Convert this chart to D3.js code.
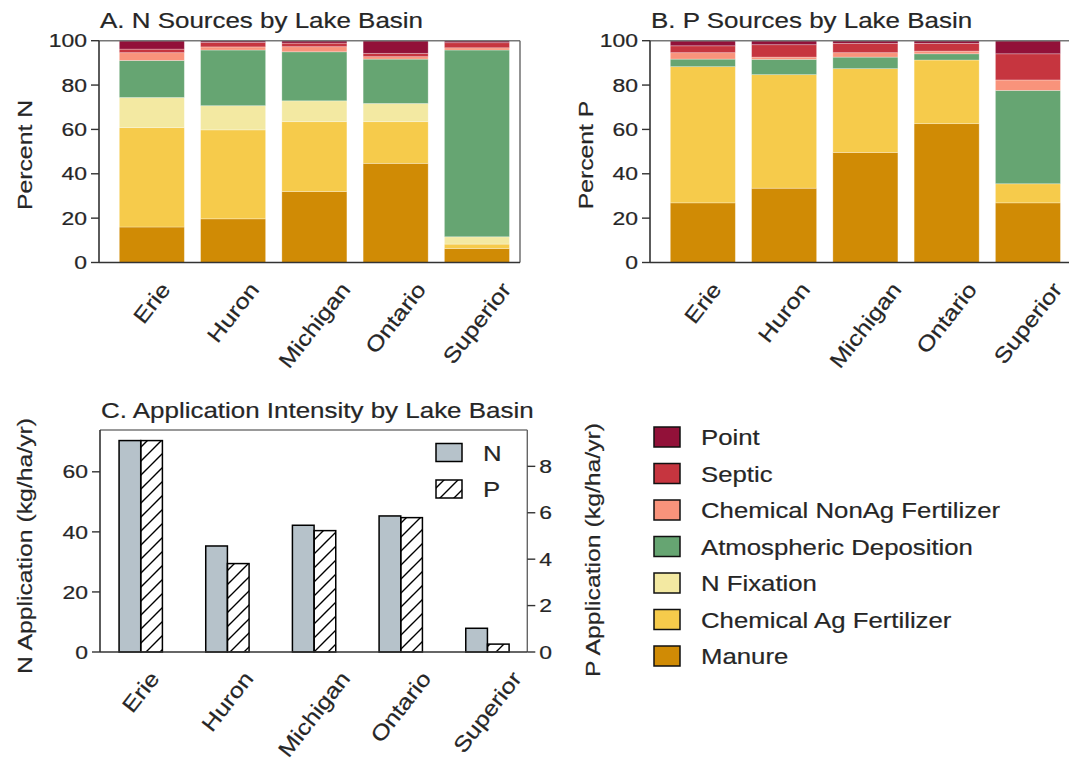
<!DOCTYPE html>
<html>
<head>
<meta charset="utf-8">
<script src="https://cdn.jsdelivr.net/npm/d3@7"></script>
<style>
  html, body { margin: 0; padding: 0; background: #fff; }
  svg { display: block; }
  text { font-family: "Liberation Sans", Arial, sans-serif; fill: #262626; stroke: #262626; stroke-width: 0.2px; }
</style>
</head>
<body>
<svg id="chart" width="1069" height="761"></svg>
<script>
// Lake basins
const basins = ["Erie", "Huron", "Michigan", "Ontario", "Superior"];

// Source categories, stacked bottom to top
const sources = ["Manure", "Chemical Ag Fertilizer", "N Fixation", "Atmospheric Deposition",
                 "Chemical NonAg Fertilizer", "Septic", "Point"];
const sourceColors = ["#d08b05", "#f6cb4b", "#f3e9a2", "#66a572", "#f9937b", "#c6353f", "#921139"];

// Percent of N by source (per basin)
const nManure  = [16.0, 19.7, 32.0, 44.7, 6.3];
const nChemAg  = [44.8, 40.1, 31.5, 18.8, 2.0];
const nFix     = [13.6, 10.9, 9.4, 8.2, 3.3];
const nAtmos   = [16.7, 25.1, 22.1, 20.0, 84.2];
const nNonAg   = [3.5, 1.4, 2.3, 1.1, 1.0];
const nSeptic  = [1.6, 2.0, 1.6, 1.5, 2.3];
const nPoint   = [3.8, 0.8, 1.1, 5.7, 0.9];

// Percent of P by source (per basin)
const pManure  = [26.9, 33.5, 49.6, 62.6, 26.9];
const pChemAg  = [61.4, 51.2, 37.8, 28.7, 8.6];
const pFix     = [0, 0, 0, 0, 0];
const pAtmos   = [3.4, 6.9, 5.2, 2.8, 42.1];
const pNonAg   = [2.9, 1.0, 2.0, 1.2, 4.7];
const pSeptic  = [3.1, 5.6, 4.2, 3.5, 11.8];
const pPoint   = [2.3, 1.8, 1.2, 1.2, 5.9];

// Application intensity (kg/ha/yr)
const nApplication = [70.4, 35.3, 42.2, 45.3, 7.9];
const pApplication = [9.11, 3.81, 5.23, 5.79, 0.34];

// Tick values
const pctTicks = [0, 20, 40, 60, 80, 100];
const nAppTicks = [0, 20, 40, 60];
const pAppTicks = [0, 2, 4, 6, 8];

const svg = d3.select("#chart");
const INK = "#333";
const SX = 1.18; // horizontal glyph stretch

const defs = svg.append("defs");
const hatch = defs.append("pattern")
  .attr("id", "hatch").attr("patternUnits", "userSpaceOnUse")
  .attr("width", 14).attr("height", 14);
hatch.append("path").attr("d", "M-2,2 L2,-2 M0,14 L14,0 M12,16 L16,12")
  .attr("stroke", "#000").attr("stroke-width", 1.4).attr("fill", "none");

function label(parent, str, x, y, o = {}) {
  const t = parent.append("text")
    .text(str)
    .attr("font-size", o.size || 18)
    .attr("text-anchor", o.anchor || "start")
    .attr("dominant-baseline", o.baseline || "auto")
    .attr("transform", `translate(${x},${y}) rotate(${o.rotate || 0}) scale(${o.sx || SX},1)`);
  return t;
}

// Rotated category label whose bounding box is centred on x with its top at yTop
function catLabel(parent, str, x, yTop, size) {
  const t = parent.append("text").text(str)
    .attr("font-size", size)
    .attr("text-anchor", "middle")
    .attr("dominant-baseline", "central")
    .attr("transform", `translate(${x},${yTop}) rotate(-52) scale(${SX},1)`);
  const r = t.node().getBoundingClientRect();
  const dx = x - (r.left + r.right) / 2;
  const dy = yTop - r.top;
  t.attr("transform", `translate(${x + dx},${yTop + dy}) rotate(-52) scale(${SX},1)`);
}

function frame(g, x0, x1, y0, y1) {
  g.append("line").attr("x1", x0).attr("x2", x1).attr("y1", y0).attr("y2", y0)
    .attr("stroke", "#777").attr("stroke-width", 1.4);
  g.append("line").attr("x1", x1).attr("x2", x1).attr("y1", y0).attr("y2", y1)
    .attr("stroke", "#666").attr("stroke-width", 1.4);
  g.append("line").attr("x1", x0).attr("x2", x0).attr("y1", y0).attr("y2", y1)
    .attr("stroke", INK).attr("stroke-width", 1.6);
  g.append("line").attr("x1", x0).attr("x2", x1).attr("y1", y1).attr("y2", y1)
    .attr("stroke", INK).attr("stroke-width", 1.6);
}

function yTicks(g, scale, ticks, xAxis, side) {
  const dir = side === "left" ? -1 : 1;
  ticks.forEach(v => {
    const y = scale(v);
    g.append("line").attr("x1", xAxis).attr("x2", xAxis + dir * 8)
      .attr("y1", y).attr("y2", y).attr("stroke", INK).attr("stroke-width", 1.4);
    label(g, String(v), xAxis + dir * 12, y, {
      size: 18.5, anchor: side === "left" ? "end" : "start", baseline: "central", sx: 1.24
    });
  });
}

// ---- Stacked percent panels ----
function stackedPanel(title, yLabel, series, left, right, labelX) {
  const g = svg.append("g");
  const top = 40.7, bottom = 262.5;
  const x = d3.scaleLinear().domain([-0.65, 4.53]).range([left, right]);
  const y = d3.scaleLinear().domain([0, 100]).range([bottom, top]);
  const rows = basins.map((b, i) => {
    const r = { basin: b, i };
    sources.forEach((s, k) => { r[s] = series[k][i]; });
    return r;
  });
  const stacked = d3.stack().keys(sources)(rows);
  const bw = 0.8;
  g.selectAll("g.layer").data(stacked).join("g")
    .attr("fill", (d, k) => sourceColors[k])
    .selectAll("rect").data(d => d).join("rect")
    .attr("x", d => x(d.data.i - bw / 2))
    .attr("width", d => x(bw) - x(0))
    .attr("y", d => y(d[1]))
    .attr("height", d => y(d[0]) - y(d[1]))
    .attr("stroke", "#fff").attr("stroke-opacity", 0.35).attr("stroke-width", 0.8);

  frame(g, left, right, top, bottom);
  yTicks(g, y, pctTicks, left, "left");
  basins.forEach((b, i) => catLabel(g, b, x(i), 278, 21.5));
  label(g, title, left + 1, 28, { size: 22 });
  label(g, yLabel, labelX, 155, { size: 21, anchor: "middle", rotate: -90 });
}

stackedPanel("A. N Sources by Lake Basin", "Percent N",
  [nManure, nChemAg, nFix, nAtmos, nNonAg, nSeptic, nPoint], 99, 520, 32);
stackedPanel("B. P Sources by Lake Basin", "Percent P",
  [pManure, pChemAg, pFix, pAtmos, pNonAg, pSeptic, pPoint], 650, 1071, 593);

// ---- Application intensity panel ----
(function () {
  const g = svg.append("g");
  const left = 100, right = 527.3, top = 430, bottom = 652;
  const x = d3.scaleLinear().domain([-0.47, 4.46]).range([left, right]);
  const yN = d3.scaleLinear().domain([0, 73.92]).range([bottom, top]);
  const yP = d3.scaleLinear().domain([0, 9.566]).range([bottom, top]);
  const w = 0.25;

  g.selectAll("rect.n").data(nApplication).join("rect").attr("class", "n")
    .attr("x", (d, i) => x(i - w)).attr("width", x(w) - x(0))
    .attr("y", d => yN(d)).attr("height", d => bottom - yN(d))
    .attr("fill", "#b6c2ca").attr("stroke", "#000").attr("stroke-width", 1.5);
  g.selectAll("rect.p").data(pApplication).join("rect").attr("class", "p")
    .attr("x", (d, i) => x(i)).attr("width", x(w) - x(0))
    .attr("y", d => yP(d)).attr("height", d => bottom - yP(d))
    .attr("fill", "url(#hatch)").attr("stroke", "#000").attr("stroke-width", 1.5);

  frame(g, left, right, top, bottom);
  yTicks(g, yN, nAppTicks, left, "left");
  yTicks(g, yP, pAppTicks, right, "right");
  basins.forEach((b, i) => catLabel(g, b, x(i), 667, 21.5));
  label(g, "C. Application Intensity by Lake Basin", left + 1, 418, { size: 22 });
  label(g, "N Application (kg/ha/yr)", 32, 546, { size: 21, anchor: "middle", rotate: -90 });
  label(g, "P Application (kg/ha/yr)", 600, 550, { size: 21, anchor: "middle", rotate: -90 });

  // N / P key
  const key = [{ t: "N", fill: "#b6c2ca", y: 443.5 }, { t: "P", fill: "url(#hatch)", y: 480 }];
  key.forEach(k => {
    g.append("rect").attr("x", 436).attr("y", k.y).attr("width", 26).attr("height", 18)
      .attr("fill", k.fill).attr("stroke", "#000").attr("stroke-width", 1.5);
    label(g, k.t, 483, k.y + 9, { size: 23, baseline: "central", sx: 1.12 });
  });
})();

// ---- Source legend ----
(function () {
  const g = svg.append("g");
  const order = sources.slice().reverse();
  const colors = sourceColors.slice().reverse();
  order.forEach((s, k) => {
    const cy = 437 + k * 36.5;
    g.append("rect").attr("x", 654).attr("y", cy - 10).attr("width", 26).attr("height", 20)
      .attr("fill", colors[k]).attr("stroke", "#111").attr("stroke-width", 1.5);
    label(g, s, 701, cy, { size: 23, baseline: "central", sx: 1.12 });
  });
})();
</script>
</body>
</html>
